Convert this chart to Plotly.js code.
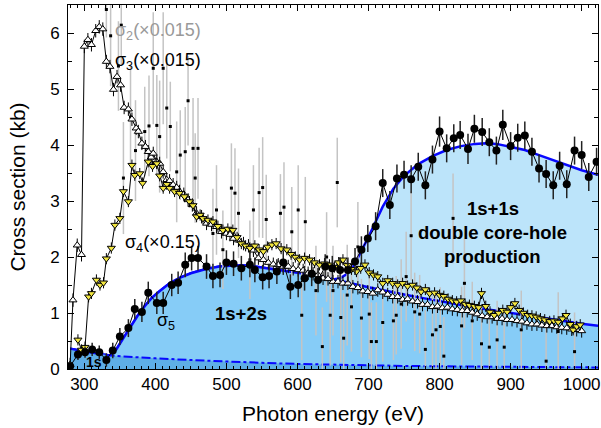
<!DOCTYPE html>
<html>
<head>
<meta charset="utf-8">
<script src="https://cdn.plot.ly/plotly-3.0.1.min.js"></script>
<style>html,body{margin:0;padding:0;background:#fff;}#chart{width:601px;height:428px;}</style>
</head>
<body>
<div id="chart"></div>
<script>
// ---- fits ----
const fit2sE = [280, 300, 320, 336, 345, 355, 365, 375, 385, 395, 405, 420, 435, 450, 470, 490, 510, 525, 540, 560, 580, 600, 625, 650, 675, 700, 725, 750, 775, 800, 825, 850, 875, 900, 925, 950, 975, 1000, 1023];
const fit2s  = [0.36, 0.31, 0.27, 0.24, 0.35, 0.55, 0.76, 0.95, 1.12, 1.27, 1.38, 1.53, 1.63, 1.71, 1.78, 1.83, 1.85, 1.85, 1.83, 1.79, 1.75, 1.72, 1.68, 1.60, 1.53, 1.46, 1.39, 1.33, 1.27, 1.21, 1.15, 1.10, 1.05, 1.00, 0.95, 0.90, 0.86, 0.81, 0.77];
const fit1sE = [280, 300, 336, 370, 400, 450, 500, 550, 600, 650, 700, 750, 800, 850, 900, 950, 1000, 1023];
const fit1s  = [0.36, 0.31, 0.24, 0.21, 0.19, 0.16, 0.13, 0.11, 0.09, 0.075, 0.065, 0.055, 0.048, 0.042, 0.037, 0.033, 0.03, 0.028];
const fitDchE = [650, 660, 670, 680, 690, 700, 710, 720, 735, 750, 770, 790, 810, 830, 850, 865, 880, 900, 920, 940, 960, 980, 1000, 1023];
const fitDch  = [1.60, 1.62, 1.70, 1.86, 2.10, 2.36, 2.63, 2.90, 3.22, 3.45, 3.66, 3.80, 3.91, 3.98, 4.02, 4.03, 4.02, 3.97, 3.91, 3.82, 3.73, 3.64, 3.55, 3.47];

// ---- sigma2 (x0.015) ----
const s2E = [331, 337, 348, 352, 355, 365, 372, 385, 391, 397, 402, 406, 411, 416, 421, 430, 435, 442, 446, 453, 456, 460, 481, 486, 495, 507, 512, 517, 533, 538, 546, 551, 556, 576, 581, 592, 601, 606, 611, 626, 635, 641, 646, 650, 656, 661, 665, 670, 676, 685, 690, 701, 704, 711, 720, 735, 739, 746, 753, 760, 765, 772, 780, 790, 795, 801, 806, 819, 831, 835, 846, 859, 870, 881, 891, 915, 950, 967, 990];
const s2  = [6.42, 5.95, 5.41, 6.14, 3.41, 4.50, 3.90, 4.24, 4.34, 5.37, 4.35, 4.15, 5.37, 4.66, 4.33, 3.52, 3.82, 3.88, 4.79, 3.94, 3.41, 3.94, 2.42, 2.84, 2.13, 3.23, 3.14, 2.78, 1.95, 2.84, 3.15, 3.24, 2.67, 2.78, 2.89, 2.45, 2.84, 0.96, 2.63, 1.40, 0.40, 2.00, 0.96, 1.40, 3.33, 0.92, 0.55, 1.32, 1.11, 2.18, 0.91, 0.98, 0.49, 0.49, 0.83, 0.86, 0.96, 1.16, 1.65, 2.38, 1.02, 0.98, 0.35, 0.61, 0.70, 0.76, 0.23, 2.69, 0.77, 1.53, 0.86, 0.45, 0.39, 0.52, 0.39, 0.70, 0.14, 0.67, 0.31];
const s2err = [0.5, 0.9, 0.8, 0.7, 1.0, 0.9, 0.9, 0.8, 0.9, 1.0, 0.9, 1.0, 1.0, 0.9, 0.8, 0.9, 0.8, 0.8, 0.8, 0.9, 0.8, 0.9, 0.8, 0.8, 0.7, 0.8, 0.8, 0.8, 0.7, 0.8, 0.8, 0.9, 0.8, 0.7, 0.8, 0.8, 0.8, 0.8, 0.8, 0.8, 0.7, 0.8, 0.9, 0.8, 0.8, 0.8, 0.8, 0.9, 0.8, 0.8, 0.7, 0.8, 0.7, 0.7, 0.7, 0.7, 0.7, 0.8, 0.8, 0.8, 0.7, 0.7, 0.7, 0.7, 0.7, 0.7, 0.7, 0.8, 0.7, 0.8, 0.7, 0.7, 0.7, 0.7, 0.7, 0.7, 0.7, 0.7, 0.7];

// ---- sigma3 (x0.015) ----
const s3E = [280, 284, 290, 296, 300, 305, 310, 316, 321, 326, 331, 336, 341, 346, 351, 356, 362, 367, 373, 376, 381, 386, 390, 394, 397, 402, 406, 411, 416, 420, 425, 430, 434, 440, 446, 452, 458, 465, 472, 479, 486, 493, 500, 505, 510, 517, 524, 531, 538, 545, 552, 559, 566, 573, 580, 587, 594, 601, 608, 615, 622, 629, 636, 643, 650, 657, 664, 671, 678, 685, 692, 699, 706, 713, 720, 727, 734, 741, 748, 755, 762, 769, 776, 783, 790, 797, 804, 811, 818, 825, 832, 839, 846, 853, 860, 867, 874, 881, 888, 895, 902, 909, 916, 923, 930, 937, 944, 951, 958, 965, 972, 979, 986, 993, 1000];
const s3  = [0.08, 1.23, 2.21, 2.04, 5.76, 5.88, 5.79, 6.04, 6.11, 6.07, 5.49, 5.40, 4.99, 5.22, 5.07, 4.67, 4.64, 4.46, 4.30, 4.24, 4.03, 3.97, 3.88, 3.78, 3.85, 3.70, 3.67, 3.52, 3.38, 3.36, 3.29, 3.24, 3.17, 3.12, 3.02, 2.93, 2.78, 2.72, 2.60, 2.58, 2.54, 2.45, 2.42, 2.40, 2.33, 2.30, 2.24, 2.20, 2.12, 1.98, 1.95, 1.90, 1.87, 1.86, 1.83, 1.83, 1.79, 1.77, 1.76, 1.71, 1.70, 1.68, 1.62, 1.61, 1.56, 1.56, 1.53, 1.53, 1.47, 1.45, 1.39, 1.38, 1.35, 1.41, 1.37, 1.33, 1.29, 1.29, 1.24, 1.25, 1.21, 1.20, 1.15, 1.15, 1.11, 1.12, 1.09, 1.10, 1.07, 1.06, 1.04, 1.04, 1.01, 0.98, 0.95, 0.93, 0.93, 0.90, 0.90, 0.88, 0.88, 0.86, 0.85, 0.82, 0.80, 0.80, 0.78, 0.77, 0.77, 0.75, 0.74, 0.73, 0.71, 0.70, 0.68];

// ---- sigma4 (x0.15) ----
const s4E = [291, 296, 301, 306, 310, 317, 322, 327, 331, 338, 343, 350, 355, 362, 367, 371, 378, 382, 390, 396, 402, 406, 411, 416, 420, 427, 434, 441, 448, 453, 458, 463, 467, 474, 481, 488, 495, 502, 509, 515, 521, 527, 533, 540, 546, 552, 558, 564, 570, 577, 585, 591, 597, 603, 610, 617, 624, 631, 638, 645, 652, 658, 664, 670, 676, 683, 689, 695, 701, 707, 713, 720, 727, 734, 741, 748, 755, 762, 768, 774, 780, 786, 793, 800, 806, 812, 818, 824, 830, 836, 842, 849, 855, 859, 865, 871, 877, 883, 889, 895, 900, 906, 912, 918, 924, 930, 936, 942, 948, 955, 961, 967, 973, 978, 984, 988, 993, 998];
const s4  = [0.52, 0.34, 0.39, 1.29, 1.35, 1.59, 1.50, 1.54, 1.97, 2.16, 2.57, 2.69, 3.17, 2.99, 3.64, 3.46, 3.49, 3.32, 3.70, 3.62, 3.67, 3.45, 3.23, 3.30, 3.23, 3.17, 3.14, 3.08, 2.99, 2.92, 2.72, 2.75, 2.69, 2.66, 2.63, 2.55, 2.48, 2.50, 2.48, 2.35, 2.24, 2.20, 2.16, 2.20, 2.13, 2.10, 2.18, 2.22, 2.24, 2.15, 2.13, 2.05, 2.00, 1.95, 1.98, 1.95, 1.90, 1.86, 1.88, 1.86, 1.82, 1.90, 1.95, 1.85, 1.78, 1.74, 1.80, 1.86, 1.72, 1.68, 1.65, 1.53, 1.58, 1.53, 1.50, 1.53, 1.48, 1.50, 1.45, 1.38, 1.42, 1.35, 1.36, 1.32, 1.30, 1.25, 1.22, 1.20, 1.22, 1.16, 1.14, 1.12, 1.10, 1.35, 1.12, 1.02, 0.96, 1.00, 1.05, 1.02, 1.10, 1.17, 1.05, 1.00, 0.96, 0.95, 0.93, 0.90, 0.88, 0.85, 0.86, 0.84, 0.90, 0.96, 0.80, 0.70, 0.76, 0.79];

// ---- sigma5 ----
const s5E = [280, 291, 301, 311, 321, 331, 340, 350, 362, 371, 381, 390, 402, 411, 423, 432, 442, 451, 460, 472, 481, 491, 500, 510, 521, 533, 540, 551, 560, 571, 580, 590, 601, 610, 620, 629, 639, 649, 660, 671, 681, 690, 699, 710, 720, 730, 740, 750, 760, 770, 780, 790, 800, 810, 820, 829, 840, 849, 860, 870, 880, 889, 900, 910, 920, 930, 940, 950, 960, 969, 979, 990, 1000, 1010, 1021];
const s5  = [0.05, 0.26, 0.30, 0.35, 0.30, 0.16, 0.33, 0.58, 0.73, 1.07, 1.02, 1.36, 1.18, 1.18, 1.50, 1.54, 1.86, 1.98, 1.98, 1.83, 1.66, 1.68, 1.90, 1.88, 1.80, 1.86, 1.77, 1.64, 1.66, 1.74, 1.90, 1.47, 1.50, 1.62, 1.70, 1.59, 1.83, 1.80, 1.77, 1.77, 1.92, 2.13, 2.33, 2.55, 3.32, 2.93, 3.40, 3.47, 3.39, 3.61, 3.28, 3.74, 4.24, 3.94, 4.12, 4.18, 3.93, 4.29, 4.23, 4.05, 3.90, 4.36, 3.98, 4.13, 4.17, 3.88, 3.58, 3.48, 3.28, 3.63, 3.30, 3.90, 3.82, 3.43, 3.70];
const s5err = [0.08, 0.10, 0.10, 0.12, 0.12, 0.12, 0.14, 0.15, 0.16, 0.18, 0.18, 0.2, 0.2, 0.2, 0.2, 0.2, 0.22, 0.22, 0.22, 0.22, 0.22, 0.22, 0.22, 0.22, 0.22, 0.22, 0.22, 0.22, 0.22, 0.22, 0.22, 0.22, 0.22, 0.22, 0.22, 0.22, 0.22, 0.22, 0.22, 0.22, 0.24, 0.24, 0.24, 0.25, 0.25, 0.25, 0.25, 0.25, 0.25, 0.25, 0.25, 0.25, 0.27, 0.25, 0.25, 0.25, 0.27, 0.25, 0.25, 0.25, 0.25, 0.27, 0.25, 0.25, 0.25, 0.25, 0.25, 0.25, 0.25, 0.25, 0.25, 0.25, 0.25, 0.25, 0.25];

// ---- build total (1s+2s + 1s+1s) envelope from the fits ----
const totE = [], tot = [];
fit2sE.forEach((e, i) => { if (e < fitDchE[0]) { totE.push(e); tot.push(fit2s[i]); } });
fitDchE.forEach((e, i) => { totE.push(e); tot.push(fitDch[i]); });

const BLUE = '#0808ff';
const traces = [
  {x: totE, y: tot, mode: 'lines', fill: 'tozeroy', fillcolor: '#bce4fa', line: {color: BLUE, width: 2.5}, hoverinfo: 'skip'},
  {x: fit2sE, y: fit2s, mode: 'lines', fill: 'tozeroy', fillcolor: '#86ccf7', line: {color: BLUE, width: 2.5}, hoverinfo: 'skip'},
  {x: fit1sE, y: fit1s, mode: 'lines', fill: 'tozeroy', fillcolor: '#5eaee6', line: {color: BLUE, width: 2, dash: 'dashdot'}, hoverinfo: 'skip'},
  {x: s2E, y: s2, mode: 'markers', marker: {symbol: 'square', size: 3, color: '#000'},
   error_y: {type: 'data', array: s2err, visible: true, color: '#c4c4c4', thickness: 1.5, width: 0}},
  {x: s3E, y: s3, mode: 'lines+markers', line: {color: '#000', width: 1},
   marker: {symbol: 'triangle-up', size: 7, color: '#fff', line: {color: '#000', width: 1}},
   error_y: {type: 'constant', value: 0.12, visible: true, color: '#000', thickness: 1, width: 0}},
  {x: s4E, y: s4, mode: 'lines+markers', line: {color: '#000', width: 1},
   marker: {symbol: 'triangle-down', size: 7, color: '#f2e640', line: {color: '#000', width: 1}},
   error_y: {type: 'constant', value: 0.1, visible: true, color: '#000', thickness: 1, width: 0}},
  {x: s5E, y: s5, mode: 'lines+markers', line: {color: '#000', width: 1},
   marker: {symbol: 'circle', size: 8, color: '#000'},
   error_y: {type: 'data', array: s5err, visible: true, color: '#222', thickness: 1.5, width: 0}}
];

const F = 'Arial, "Liberation Sans", sans-serif';
const ann = (x, y, text, opts) => Object.assign({x, y, xref: 'x', yref: 'y', text, showarrow: false, xanchor: 'left', yanchor: 'middle', font: {family: F, size: 18, color: '#000'}}, opts || {});
const layout = {
  width: 601, height: 428,
  margin: {l: 68, r: 3, t: 5, b: 59},
  paper_bgcolor: '#fff', plot_bgcolor: '#fff',
  showlegend: false,
  font: {family: F, color: '#000'},
  xaxis: {
    range: [277, 1023], dtick: 100, tick0: 0,
    ticks: 'inside', ticklen: 6, tickwidth: 1, tickcolor: '#000',
    minor: {dtick: 10, ticks: 'inside', ticklen: 3, tickcolor: '#000'},
    showline: true, linecolor: '#000', linewidth: 1, mirror: 'ticks',
    showgrid: false, zeroline: false,
    tickfont: {family: F, size: 17},
    title: {text: 'Photon energy (eV)', font: {family: F, size: 21}, standoff: 12}
  },
  yaxis: {
    range: [0, 6.5], dtick: 1,
    ticks: 'inside', ticklen: 6, tickwidth: 1, tickcolor: '#000',
    minor: {dtick: 0.5, ticks: 'inside', ticklen: 4, tickcolor: '#000'},
    showline: true, linecolor: '#000', linewidth: 1, mirror: 'ticks',
    showgrid: false, zeroline: false,
    tickfont: {family: F, size: 17},
    ticklabelstandoff: 4,
    title: {text: 'Cross section (kb)', font: {family: F, size: 21}, standoff: 18}
  },
  annotations: [
    ann(340, 6.02, 'σ<sub>2</sub>(×0.015)', {font: {family: F, size: 18, color: '#999'}}),
    ann(340, 5.50, 'σ<sub>3</sub>(×0.015)'),
    ann(354, 2.25, 'σ<sub>4</sub>(×0.15)'),
    ann(400, 0.84, 'σ<sub>5</sub>'),
    ann(520, 1.0, '<b>1s+2s</b>', {xanchor: 'center', font: {family: F, size: 18.5, color: '#000'}}),
    ann(875, 2.87, '<b>1s+1s</b>', {xanchor: 'center', font: {family: F, size: 18.5, color: '#000'}}),
    ann(875, 2.44, '<b>double core-hole</b>', {xanchor: 'center', font: {family: F, size: 18.5, color: '#000'}}),
    ann(875, 2.01, '<b>production</b>', {xanchor: 'center', font: {family: F, size: 18.5, color: '#000'}}),
    ann(313, 0.13, '<b>1s</b>', {xanchor: 'center', font: {family: F, size: 14, color: '#000'}})
  ]
};
Plotly.newPlot('chart', traces, layout, {displayModeBar: false, staticPlot: true});
</script>
</body>
</html>
